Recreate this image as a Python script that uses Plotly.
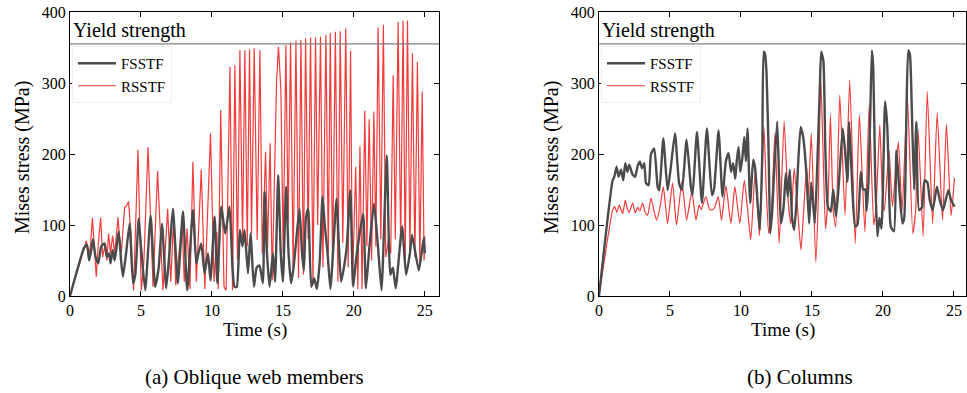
import plotly.graph_objects as go

# ---------------- data (time s, Mises stress MPa) ----------------
web_FSSTF = [(0,0),(1.0,68),(1.2,72),(1.35,50),(1.5,65),(1.62,80),(1.8,55),(2.0,46),(2.2,70),(2.44,74),(2.6,55),
    (2.75,60),(2.86,46),(3.0,65),(3.15,50),(3.43,91),(3.6,50),(3.73,27),(3.95,60),(4.2,102),(4.44,18),(4.6,30),
    (4.84,109),(5.0,70),(5.3,8),(5.68,113),(6.0,13),(6.25,40),(6.48,102),(6.78,11),(7.0,60),(7.25,123),(7.6,18),
    (7.96,119),(8.26,8),(8.66,121),(8.9,46),(9.05,60),(9.25,74),(9.48,32),(9.72,60),(9.9,22),(10.19,112),(10.38,18),
    (10.66,126),(10.94,88),(11.24,126),(11.45,40),(11.59,13),(11.75,13),(11.97,93),(12.15,70),(12.3,93),(12.54,32),
    (12.72,88),(12.96,13),(13.15,40),(13.35,43),(13.59,18),(13.71,147),(13.85,70),(14.06,13),(14.3,60),(14.45,20),
    (14.67,170),(14.85,60),(15.0,20),(15.23,154),(15.4,60),(15.58,18),(15.75,40),(15.9,70),(16.17,123),(16.35,60),
    (16.48,36),(16.62,110),(16.78,123),(17.0,13),(17.2,25),(17.4,10),(17.6,50),(17.79,140),(17.95,100),(18.15,60),
    (18.35,10),(18.78,137),(18.95,70),(19.1,20),(19.3,40),(19.5,70),(19.75,149),(19.95,13),(20.15,50),(20.35,80),
    (20.66,116),(20.85,11),(21.1,70),(21.42,130),(21.7,70),(21.95,8),(22.32,198),(22.57,30),(22.75,40),(22.95,11),
    (23.4,98),(23.68,30),(23.95,60),(24.1,86),(24.58,36),(24.93,82),(25.0,60)]

web_RSSTF = [(0,0),(1.0,68),(1.15,78),(1.3,55),(1.45,72),(1.58,110),(1.7,70),(1.85,27),(2.0,75),(2.16,110),(2.3,55),
    (2.45,70),(2.6,50),(2.72,88),(2.85,60),(3.0,85),(3.15,60),(3.38,111),(3.5,80),(3.62,62),(3.85,125),(3.97,126),
    (4.13,133),(4.3,84),(4.48,8),(4.79,206),(5.02,8),(5.2,46),(5.5,210),(5.85,13),(6.17,176),(6.55,8),(6.88,123),
    (7.1,20),(7.3,110),(7.45,15),(7.9,105),(8.05,20),(8.25,95),(8.45,10),(8.66,189),(8.9,20),(9.25,178),(9.5,10),
    (9.9,229),(10.15,20),(10.35,90),(10.45,10),(10.62,262),(10.85,13),(11.0,8),(11.27,323),(11.45,8),(11.62,325),
    (11.8,50),(11.97,346),(12.16,81),(12.32,346),(12.49,70),(12.65,347),(12.79,88),(12.98,349),(13.19,79),
    (13.38,346),(13.55,60),(13.78,203),(13.92,67),(14.1,215),(14.25,22),(14.55,300),(14.69,351),(14.86,290),
    (15.02,60),(15.21,353),(15.37,102),(15.54,357),(15.72,40),(15.92,360),(16.1,25),(16.27,361),(16.45,30),
    (16.6,363),(16.78,80),(16.95,364),(17.12,15),(17.3,364),(17.45,100),(17.65,365),(17.82,40),(18.03,368),
    (18.2,60),(18.34,370),(18.5,45),(18.7,372),(18.88,20),(19.04,373),(19.22,75),(19.43,377),(19.6,40),(19.77,345),
    (19.9,16),(20.13,182),(20.28,10),(20.43,211),(20.58,10),(20.77,261),(20.92,70),(21.08,249),(21.25,50),
    (21.41,260),(21.55,70),(21.71,378),(21.9,80),(22.08,382),(22.25,55),(22.45,80),(22.6,60),(22.77,311),
    (22.92,80),(23.12,386),(23.3,70),(23.47,388),(23.62,50),(23.78,388),(23.95,60),(24.13,342),(24.3,55),
    (24.48,330),(24.65,45),(24.82,288),(24.95,50),(25.0,84)]

col_FSSTF = [(0,0),(0.96,163),(1.08,168),(1.24,182),(1.38,168),(1.55,178),(1.71,163),(1.85,187),(2.0,175),(2.13,185),
    (2.37,171),(2.55,168),(2.72,183),(2.88,189),(3.03,180),(3.19,187),(3.31,159),(3.5,156),(3.66,200),(3.89,208),
    (4.13,154),(4.25,149),(4.53,222),(4.83,149),(5.05,180),(5.35,229),(5.65,158),(5.84,149),(6.17,220),(6.47,154),
    (6.59,142),(6.9,231),(7.25,131),(7.6,236),(7.95,142),(8.1,150),(8.42,233),(8.7,140),(8.94,190),(9.13,201),
    (9.3,175),(9.45,187),(9.6,165),(9.7,190),(9.83,210),(9.95,175),(10.1,195),(10.23,224),(10.35,190),(10.46,236),
    (10.65,131),(10.86,192),(11.0,180),(11.17,131),(11.33,93),(11.5,200),(11.6,344),(11.7,340),(11.8,314),
    (11.95,200),(12.06,88),(12.2,120),(12.35,180),(12.55,246),(12.68,170),(12.81,102),(13.0,125),(13.16,173),
    (13.3,140),(13.44,178),(13.6,110),(13.75,93),(13.9,130),(14.0,175),(14.2,238),(14.38,224),(14.61,173),
    (14.8,102),(14.95,160),(15.2,102),(15.4,200),(15.55,290),(15.65,344),(15.8,332),(15.95,200),(16.12,126),
    (16.33,119),(16.5,150),(16.7,112),(16.9,160),(17.17,236),(17.35,200),(17.5,161),(17.62,245),(17.8,170),
    (18.04,98),(18.2,100),(18.44,175),(18.6,150),(18.75,150),(18.85,120),(18.98,161),(19.1,250),(19.22,346),
    (19.32,320),(19.45,170),(19.61,84),(19.75,110),(19.9,95),(20.15,274),(20.3,240),(20.4,180),(20.55,98),
    (20.78,91),(20.95,205),(21.15,150),(21.37,102),(21.5,110),(21.65,250),(21.78,346),(21.9,340),(22.05,250),
    (22.2,150),(22.35,245),(22.54,121),(22.75,125),(22.93,163),(23.13,160),(23.3,135),(23.5,121),(23.8,154),
    (24.0,135),(24.23,121),(24.6,149),(24.8,135),(25.05,126)]

col_RSSTF = [(0,0),(0.96,121),(1.1,126),(1.25,118),(1.43,128),(1.67,116),(1.85,135),(2.0,122),(2.13,118),(2.37,131),
    (2.55,117),(2.72,125),(2.88,120),(3.07,131),(3.25,118),(3.43,114),(3.66,138),(3.85,122),(4.06,107),(4.3,125),
    (4.53,154),(4.83,102),(5.18,159),(5.46,100),(5.84,161),(6.17,107),(6.54,147),(6.83,107),(7.05,128),(7.2,122),
    (7.53,140),(7.81,121),(8.1,123),(8.4,140),(8.63,107),(8.94,155),(9.29,102),(9.57,154),(9.92,102),(10.23,163),
    (10.45,125),(10.69,79),(11.0,176),(11.3,85),(11.62,238),(11.78,150),(11.95,88),(12.15,120),(12.39,229),
    (12.69,74),(13.04,246),(13.3,140),(13.51,102),(13.75,180),(14.0,120),(14.22,65),(14.42,120),(14.62,182),
    (14.75,140),(14.95,229),(15.27,48),(15.45,140),(15.62,309),(15.8,190),(15.95,95),(16.14,140),(16.3,256),
    (16.5,120),(16.68,97),(16.96,283),(17.33,114),(17.66,304),(18.05,74),(18.34,255),(18.73,90),(19.03,269),
    (19.35,100),(19.5,120),(19.78,241),(19.95,150),(20.1,120),(20.43,205),(20.67,126),(21.08,217),(21.35,120),
    (21.72,282),(22.1,88),(22.3,120),(22.48,234),(22.83,84),(23.12,288),(23.5,102),(23.82,258),(24.2,107),
    (24.47,242),(24.8,113),(25.04,166)]

YIELD = 355
x_ticks = [0, 5, 10, 15, 20, 25]
y_ticks = [0, 100, 200, 300, 400]

# ---------------- styling ----------------
FONT = "Liberation Serif"
DARK = "#4b4b4b"
RED = "#f23a3a"
W, H = 967, 393

def px(x):
    return x / W

def py(y):
    return (H - y) / H

fig = go.Figure()

def add_series(data, name, color, width, xa, ya, leg, rank, shape="linear"):
    fig.add_trace(go.Scatter(
        x=[p[0] for p in data], y=[p[1] for p in data], mode="lines", name=name,
        line=dict(color=color, width=width, shape=shape, smoothing=0.5 if shape == "spline" else None),
        xaxis=xa, yaxis=ya, legend=leg, legendrank=rank))

add_series(web_RSSTF, "RSSTF", RED, 1.2, "x", "y", "legend", 2)
add_series(web_FSSTF, "FSSTF", DARK, 2.4, "x", "y", "legend", 1, "spline")
add_series(col_RSSTF, "RSSTF", RED, 1.2, "x2", "y2", "legend2", 2, "spline")
add_series(col_FSSTF, "FSSTF", DARK, 2.4, "x2", "y2", "legend2", 1, "spline")

axis_common = dict(showline=True, linecolor="black", linewidth=1.2, mirror="ticks",
                   ticks="inside", ticklen=5, tickwidth=1.2, tickcolor="black",
                   showgrid=False, zeroline=False, automargin=False,
                   tickfont=dict(family=FONT, size=16, color="black"))

ydom = [py(296), py(12)]
leg_common = dict(xanchor="left", yanchor="top", bgcolor="white",
                  bordercolor="#efefef", borderwidth=1, font=dict(family=FONT, size=15, color="black"),
                  tracegroupgap=0, itemwidth=38)
fig.update_layout(
    template="none",
    width=W, height=H, margin=dict(l=0, r=0, t=0, b=0, pad=0, autoexpand=False),
    paper_bgcolor="white", plot_bgcolor="white",
    xaxis=dict(domain=[px(70), px(439)], range=[0, 26], tickvals=x_ticks, anchor="y", **axis_common),
    yaxis=dict(domain=ydom, range=[0, 400], tickvals=y_ticks, anchor="x", **axis_common),
    xaxis2=dict(domain=[px(599), px(966)], range=[0, 25.85], tickvals=x_ticks, anchor="y2", **axis_common),
    yaxis2=dict(domain=ydom, range=[0, 400], tickvals=y_ticks, anchor="x2", **axis_common),
    legend=dict(x=px(72), y=py(46), **leg_common),
    legend2=dict(x=px(601), y=py(46), **leg_common),
    showlegend=True,
)

for xr, yr in (("x", "y"), ("x2", "y2")):
    fig.add_shape(type="line", xref=xr + " domain", yref=yr, x0=0, x1=1, y0=YIELD, y1=YIELD,
                  line=dict(color="#7f7f7f", width=1.2))

ann_font = dict(family=FONT, color="black")
anns = [
    dict(text="Yield strength", x=px(71), y=py(31), xanchor="left", yanchor="middle", size=20),
    dict(text="Yield strength", x=px(600), y=py(31), xanchor="left", yanchor="middle", size=20),
    dict(text="Time (s)", x=px(254.5), y=py(330), xanchor="center", yanchor="middle", size=19),
    dict(text="Time (s)", x=px(782.5), y=py(330), xanchor="center", yanchor="middle", size=19),
    dict(text="(a) Oblique web members", x=px(254), y=py(377), xanchor="center", yanchor="middle", size=21),
    dict(text="(b) Columns", x=px(800), y=py(377), xanchor="center", yanchor="middle", size=21),
]
for a in anns:
    fig.add_annotation(text=a["text"], x=a["x"], y=a["y"], xref="paper", yref="paper",
                       xanchor=a["xanchor"], yanchor=a["yanchor"], showarrow=False,
                       font=dict(size=a["size"], **ann_font))
for xc in (22, 551):
    fig.add_annotation(text="Mises stress (MPa)", x=px(xc), y=py(158), xref="paper", yref="paper",
                       xanchor="center", yanchor="middle", textangle=-90, showarrow=False,
                       font=dict(size=20, **ann_font))

fig.write_html("out.html")
